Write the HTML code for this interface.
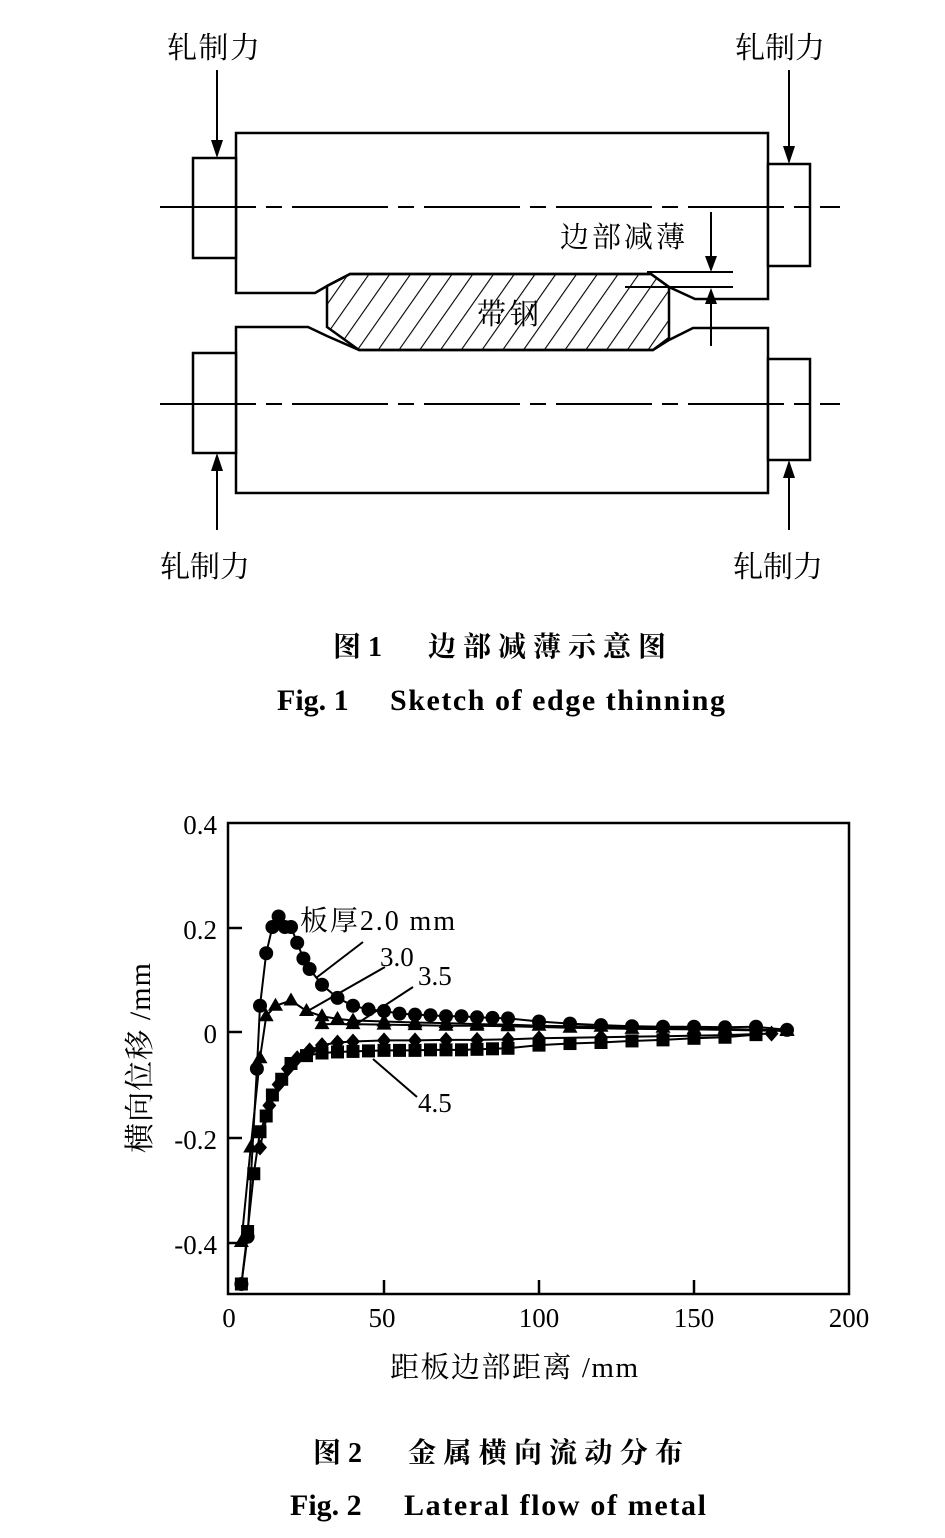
<!DOCTYPE html>
<html><head><meta charset="utf-8"><style>
html,body{margin:0;padding:0;background:#fff;}
svg{display:block}
.cn{font-family:"Liberation Serif","Noto Serif CJK SC","Noto Sans CJK SC",serif;}
</style></head><body>
<svg id="s" width="945" height="1538" viewBox="0 0 945 1538" xmlns="http://www.w3.org/2000/svg">
<defs>
<pattern id="h" patternUnits="userSpaceOnUse" width="17" height="17" patternTransform="rotate(35)">
<line x1="0" y1="0" x2="0" y2="17" stroke="#000" stroke-width="2.2"/>
</pattern>
<marker id="ar" viewBox="0 0 10 16" refX="5" refY="16" markerWidth="10" markerHeight="16" orient="auto-start-reverse" markerUnits="userSpaceOnUse">
<path d="M0,0 L5,16 L10,0 z" fill="#000"/></marker>
</defs>
<g fill="none" stroke="#000" stroke-width="2.5">
<path d="M236,293 V133 H768 V299 H695 L669,287 L651,274 H350 L327,286 L315,293 Z" fill="#fff"/>
<path d="M236,327 H308 L327,336 L359,350 H653 L669,340 L693,328 H768 V493 H236 Z" fill="#fff"/>
<path d="M350,274 H651 L669,287 V338 L653,350 H359 L327,327 V286 Z" fill="url(#h)"/>
<rect x="193" y="158" width="43" height="100" fill="#fff"/>
<rect x="768" y="164" width="42" height="102" fill="#fff"/>
<rect x="193" y="353" width="43" height="100" fill="#fff"/>
<rect x="768" y="359" width="42" height="101" fill="#fff"/>
</g>
<g stroke="#000" stroke-width="2">
<line x1="160" y1="207" x2="840" y2="207" stroke-dasharray="96 10 16 10"/>
<line x1="160" y1="404" x2="840" y2="404" stroke-dasharray="96 10 16 10"/>
</g>
<g fill="#000">
<rect x="216" y="70" width="2" height="72"/><path d="M211,140 L217,158 L223,140Z"/>
<rect x="788" y="70" width="2" height="78"/><path d="M783,146 L789,164 L795,146Z"/>
<rect x="216" y="469" width="2" height="61"/><path d="M211,471 L217,453 L223,471Z"/>
<rect x="788" y="476" width="2" height="54"/><path d="M783,478 L789,460 L795,478Z"/>
<rect x="710" y="212" width="2" height="46"/><path d="M705,256 L711,272 L717,256Z"/>
<rect x="710" y="302" width="2" height="44"/><path d="M705,304 L711,288 L717,304Z"/>
</g>
<g stroke="#000" stroke-width="2">
<line x1="647" y1="272" x2="733" y2="272"/>
<line x1="625" y1="287" x2="733" y2="287"/>
</g>
<g class="cn" font-size="30" fill="#000">
<text x="167" y="58" textLength="93">轧制力</text>
<text x="735" y="58" textLength="90">轧制力</text>
<text x="160" y="577" textLength="90">轧制力</text>
<text x="733" y="577" textLength="90">轧制力</text>
<text x="560" y="247" font-size="29" textLength="125">边部减薄</text>
<text x="477" y="324" font-size="29" textLength="62">带钢</text>
</g>
<g class="cn" font-weight="bold" fill="#000">
<text x="333" y="656" font-size="28">图 1</text>
<text x="428" y="656" font-size="28" textLength="238">边部减薄示意图</text>
<text x="277" y="710" font-size="30" font-family="Liberation Serif,serif">Fig. 1</text>
<text x="390" y="710" font-size="30" font-family="Liberation Serif,serif" textLength="335">Sketch of edge thinning</text>
<text x="313" y="1462" font-size="28">图 2</text>
<text x="408" y="1462" font-size="28" textLength="275">金属横向流动分布</text>
<text x="290" y="1515" font-size="30" font-family="Liberation Serif,serif">Fig. 2</text>
<text x="404" y="1515" font-size="30" font-family="Liberation Serif,serif" textLength="302">Lateral flow of metal</text>
</g>
<rect x="228" y="823" width="621" height="471" fill="none" stroke="#000" stroke-width="2.5"/>
<g stroke="#000" stroke-width="2.5">
<line x1="228" y1="928" x2="242" y2="928"/><line x1="228" y1="1032" x2="242" y2="1032"/>
<line x1="228" y1="1138" x2="242" y2="1138"/><line x1="228" y1="1243" x2="242" y2="1243"/>
<line x1="384" y1="1294" x2="384" y2="1280"/><line x1="539" y1="1294" x2="539" y2="1280"/>
<line x1="694" y1="1294" x2="694" y2="1280"/>
</g>
<g font-family="Liberation Serif,serif" font-size="27" fill="#000">
<g text-anchor="end"><text x="217" y="834">0.4</text><text x="217" y="939">0.2</text><text x="217" y="1043">0</text><text x="217" y="1149">-0.2</text><text x="217" y="1254">-0.4</text></g>
<g text-anchor="middle"><text x="229" y="1327">0</text><text x="382" y="1327">50</text><text x="539" y="1327">100</text><text x="694" y="1327">150</text><text x="849" y="1327">200</text></g>
<text x="300" y="930" class="cn" font-size="28" textLength="155">板厚2.0 mm</text>
<text x="380" y="966">3.0</text>
<text x="418" y="985">3.5</text>
<text x="418" y="1112">4.5</text>
<text x="390" y="1377" class="cn" font-size="29" textLength="248">距板边部距离 /mm</text>
<text transform="translate(150,1058) rotate(-90)" text-anchor="middle" class="cn" font-size="30" textLength="190">横向位移 /mm</text>
</g>
<g stroke="#000" stroke-width="2">
<line x1="363" y1="942" x2="316" y2="978"/>
<line x1="385" y1="967" x2="306" y2="1012"/>
<line x1="413" y1="987" x2="358" y2="1023"/>
<line x1="417" y1="1097" x2="373" y2="1059"/>
</g>
<g id="data"></g>
</svg>
<script>
(function(){
var X=function(v){return 229+v*3.1},Y=function(v){return 1032-v*525};
var g=document.getElementById('data'),NS='http://www.w3.org/2000/svg';
function el(t,a){var e=document.createElementNS(NS,t);for(var k in a)e.setAttribute(k,a[k]);g.appendChild(e);return e;}
var S={
c:[[4,-0.48],[6,-0.39],[9,-0.07],[10,0.05],[12,0.15],[14,0.2],[16,0.22],[18,0.2],[20,0.2],[22,0.17],[24,0.14],[26,0.12],[30,0.09],[35,0.065],[40,0.05],[45,0.043],[50,0.04],[55,0.035],[60,0.033],[65,0.032],[70,0.03],[75,0.03],[80,0.028],[85,0.027],[90,0.026],[100,0.02],[110,0.016],[120,0.013],[130,0.011],[140,0.01],[150,0.01],[160,0.009],[170,0.01],[180,0.004]],
t:[[4,-0.4],[7,-0.22],[10,-0.05],[12,0.03],[15,0.05],[20,0.06],[25,0.04],[30,0.03],[35,0.025],[40,0.022],[50,0.02],[60,0.018],[70,0.017],[80,0.015],[90,0.014],[100,0.012],[120,0.01],[140,0.008],[160,0.006],[180,0.003]],
t2:[[30,0.015],[40,0.015],[50,0.014],[60,0.013],[70,0.012],[80,0.012],[90,0.011],[110,0.008],[130,0.006],[150,0.005],[180,0.002]],
d:[[10,-0.22],[13,-0.14],[16,-0.1],[19,-0.07],[22,-0.05],[26,-0.035],[30,-0.025],[35,-0.02],[40,-0.018],[50,-0.016],[60,-0.016],[70,-0.015],[80,-0.015],[90,-0.014],[100,-0.012],[120,-0.01],[140,-0.008],[160,-0.006],[175,-0.003]],
q:[[4,-0.48],[6,-0.38],[8,-0.27],[10,-0.19],[12,-0.16],[14,-0.12],[17,-0.09],[20,-0.06],[25,-0.045],[30,-0.04],[35,-0.038],[40,-0.037],[45,-0.036],[50,-0.035],[55,-0.035],[60,-0.035],[65,-0.034],[70,-0.034],[75,-0.034],[80,-0.033],[85,-0.032],[90,-0.031],[100,-0.025],[110,-0.022],[120,-0.02],[130,-0.017],[140,-0.015],[150,-0.012],[160,-0.01],[170,-0.005]]};
for(var k in S){var p=S[k].map(function(a){return X(a[0])+','+Y(a[1])}).join(' ');
el('polyline',{points:p,fill:'none',stroke:'#000','stroke-width':2});}
function draw(k,f){S[k].forEach(function(a){f(X(a[0]),Y(a[1]));});}
draw('c',function(x,y){el('circle',{cx:x,cy:y,r:7,fill:'#000'});});
function tri(x,y){el('path',{d:'M'+x+','+(y-8)+' L'+(x+7.5)+','+(y+5)+' L'+(x-7.5)+','+(y+5)+'Z',fill:'#000'});}
draw('t',tri);draw('t2',tri);
draw('d',function(x,y){el('path',{d:'M'+x+','+(y-8)+' L'+(x+7)+','+y+' L'+x+','+(y+8)+' L'+(x-7)+','+y+'Z',fill:'#000'});});
draw('q',function(x,y){el('rect',{x:x-6.5,y:y-6.5,width:13,height:13,fill:'#000'});});
})();
</script>
</body></html>
